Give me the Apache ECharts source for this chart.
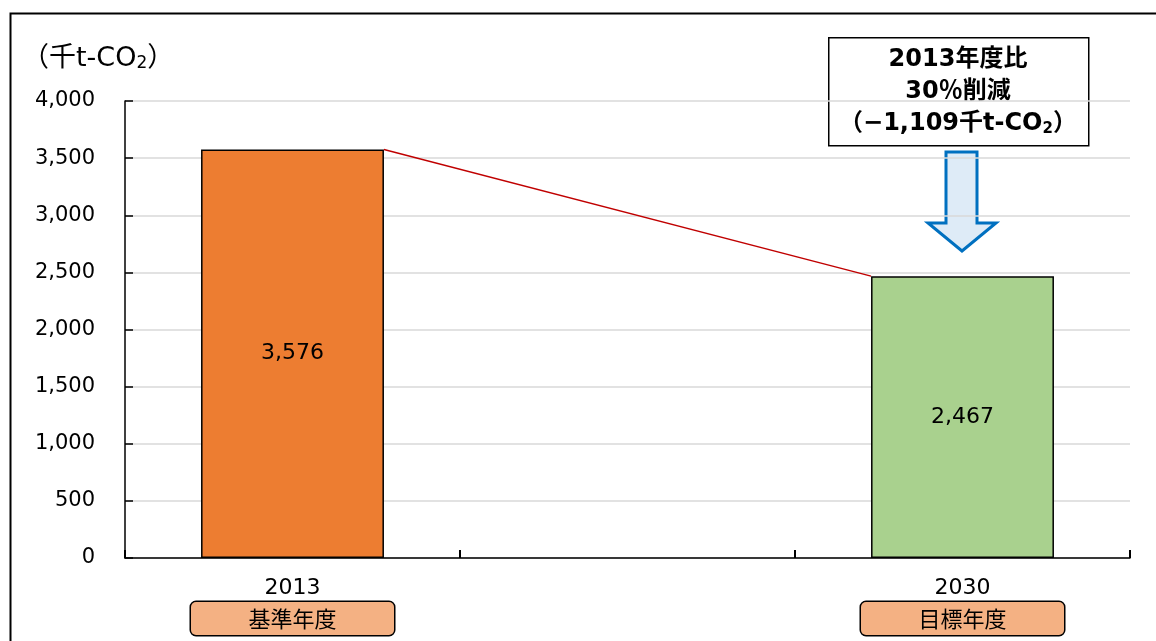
<!DOCTYPE html>
<html>
<head>
<meta charset="utf-8">
<script src="https://cdn.jsdelivr.net/npm/echarts@6/dist/echarts.min.js"></script>
<style>
html,body{margin:0;padding:0;background:#fff;}
#chart{width:1156px;height:641px;}
</style>
</head>
<body>
<div id="chart"></div>
<script>
const categories = ['2013', '', '2030'];
const subLabels = ['基準年度', '', '目標年度'];
const values = [3576, null, 2467];
const barColors = ['#ED7D31', '#A9D18E', '#A9D18E'];
const yTicks = { min: 0, max: 4000, interval: 500 };
const reductionLabel = ['2013年度比', '30％削減', '（−1,109千t-CO', '2', '）'];
const unitLabel = ['（千t-CO', '2', '）'];

const BAR_RATIO = 0.546;
const FONT = '"DejaVu Sans", "Noto Sans CJK JP", sans-serif';
const CJK = '"Noto Sans CJK JP", "DejaVu Sans", sans-serif';

const chart = echarts.init(document.getElementById('chart'));

const option = {
  animation: false,
  grid: { left: 125, right: 26, top: 101, bottom: 83 },
  xAxis: {
    type: 'category',
    data: categories,
    boundaryGap: true,
    axisLine: { lineStyle: { color: '#000', width: 1.5 } },
    axisTick: { show: true, inside: true, length: 8, lineStyle: { color: '#000', width: 2 } },
    axisLabel: {
      margin: 17,
      interval: 0,
      formatter: function (v, i) {
        return v ? '{y|' + v + '}\n{b|' + subLabels[i] + '}' : '';
      },
      rich: {
        y: { fontFamily: FONT, fontSize: 22, color: '#000', lineHeight: 27, align: 'center' },
        b: {
          fontFamily: CJK, fontSize: 22, color: '#000', width: 203, height: 33, lineHeight: 33,
          align: 'center', backgroundColor: '#F4B183', borderColor: '#000', borderWidth: 1.5,
          borderRadius: 5
        }
      }
    }
  },
  yAxis: {
    type: 'value',
    min: yTicks.min, max: yTicks.max, interval: yTicks.interval,
    axisLine: { show: true, lineStyle: { color: '#000', width: 1.5 } },
    axisTick: { show: true, inside: false, length: -8, lineStyle: { color: '#000', width: 1.5 } },
    splitLine: { lineStyle: { color: '#d9d9d9', width: 1.5 } },
    axisLabel: {
      margin: 30, color: '#000', fontFamily: FONT, fontSize: 21,
      formatter: v => v.toLocaleString('en-US')
    }
  },
  series: [
    {
      type: 'bar',
      barWidth: (BAR_RATIO * 100) + '%',
      data: values.map((v, i) => ({ value: v, itemStyle: { color: barColors[i] } })),
      itemStyle: { borderColor: '#000', borderWidth: 1.5 },
      label: {
        show: true, position: 'inside', color: '#000', fontFamily: FONT, fontSize: 22,
        formatter: p => p.value.toLocaleString('en-US')
      },
      z: 2
    },
    {
      type: 'custom',
      data: [[0, values[0], 2, values[2]]],
      encode: { x: 0, y: 1 },
      renderItem: function (params, api) {
        const p0 = api.coord([api.value(0), api.value(1)]);
        const p1 = api.coord([api.value(2), api.value(3)]);
        const hw = api.size([1, 0])[0] * BAR_RATIO / 2;
        return {
          type: 'line',
          shape: { x1: p0[0] + hw, y1: p0[1], x2: p1[0] - hw, y2: p1[1] },
          style: { stroke: '#C00000', lineWidth: 1.5 }
        };
      },
      z: 3
    }
  ],
  graphic: [
    {
      type: 'rect', left: 8, top: 11, silent: true,
      shape: { width: 1200, height: 700 },
      style: { fill: 'none', stroke: '#000', lineWidth: 2 }
    },
    {
      type: 'text', x: 22, y: 40,
      style: {
        text: '{t|' + unitLabel[0] + '}{s|' + unitLabel[1] + '}{t|' + unitLabel[2] + '}',
        rich: {
          t: { fontFamily: FONT, fontSize: 27, fill: '#000', lineHeight: 32, verticalAlign: 'bottom' },
          s: { fontFamily: FONT, fontSize: 17, fill: '#000', lineHeight: 32, verticalAlign: 'bottom', padding: [9, 0, 0, 0] }
        }
      }
    },
    {
      type: 'rect', left: 828, top: 37,
      shape: { width: 260, height: 108 },
      style: { fill: '#fff', stroke: '#000', lineWidth: 1.5 }
    },
    {
      type: 'text', x: 958, y: 44,
      style: {
        text: '{t|' + reductionLabel[0] + '}\n{t|' + reductionLabel[1] + '}\n{t|' + reductionLabel[2] + '}{s|' + reductionLabel[3] + '}{t|' + reductionLabel[4] + '}',
        align: 'center',
        rich: {
          t: { fontFamily: FONT, fontWeight: 'bold', fontSize: 24, fill: '#000', lineHeight: 32, align: 'center' },
          s: { fontFamily: FONT, fontWeight: 'bold', fontSize: 15, fill: '#000', lineHeight: 32, padding: [10, 0, 0, 0] }
        }
      }
    },
    {
      type: 'polygon',
      shape: {
        points: [[946, 152], [977, 152], [977, 223], [996, 223], [962, 251], [928, 223], [946, 223]]
      },
      style: { fill: '#DEEBF7', stroke: '#0070C0', lineWidth: 3 }
    }
  ]
};

chart.setOption(option);
</script>
</body>
</html>
